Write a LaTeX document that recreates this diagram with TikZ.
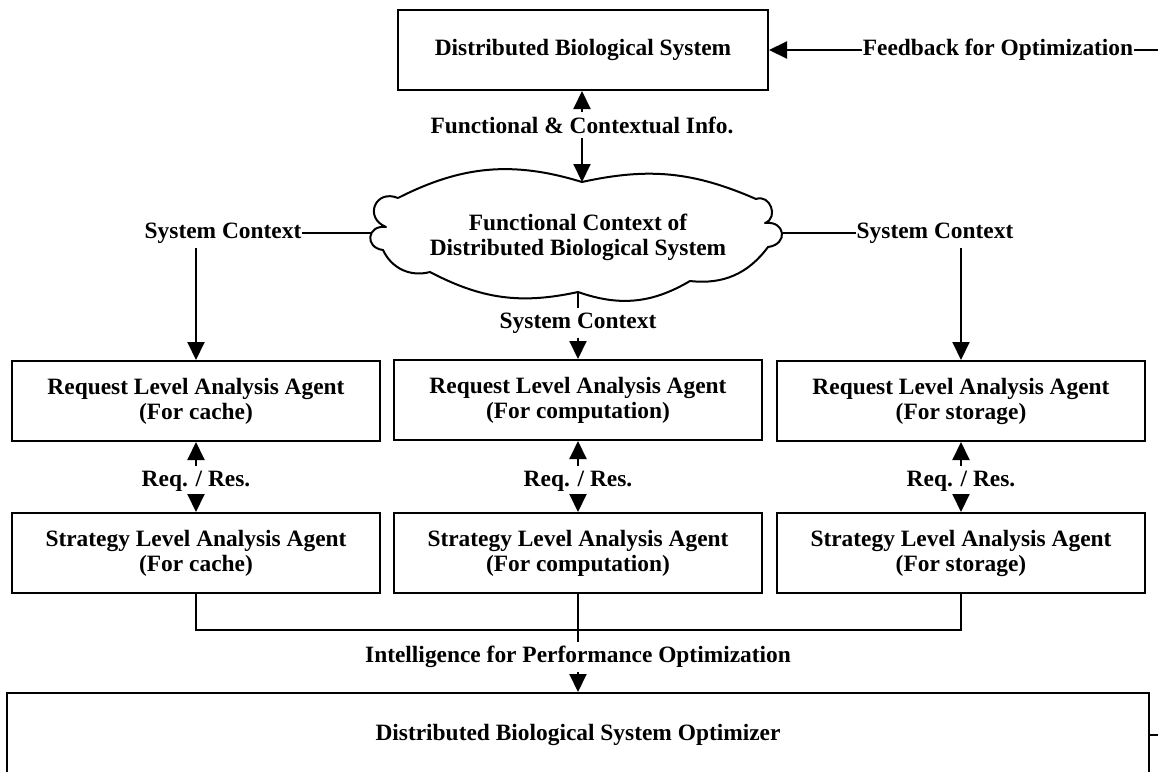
\documentclass[tikz,border=0pt]{standalone}
\usepackage{fontspec}
\setmainfont{Liberation Serif}
\usetikzlibrary{arrows.meta}
\begin{document}
\begin{tikzpicture}[x=0.5pt,y=-0.5pt,
  every node/.style={font=\bfseries\fontsize{11.7}{12.5}\selectfont,align=center},
  box/.style={draw,line width=1pt,minimum width=184pt,minimum height=40pt,inner sep=0pt},
  lbl/.style={inner ysep=2pt,inner xsep=0.3pt},
  conn/.style={line width=1pt},
  arr/.style={conn,-{Triangle[width=8.5pt,length=9pt]}}]
\useasboundingbox (0,0) rectangle (1158,772);
\clip (0,0) rectangle (1158,772);
% top
\node[box,minimum width=185pt] (top) at (583,50) {Distributed Biological System};
\node[lbl] (fci) at (582,125) {Functional \& Contextual Info.};
% cloud
\node[inner sep=0pt] (cloud) at (578,237) {Functional Context of\\Distributed Biological System};
\draw[conn,line join=round] (398,198) to[bend left=22] (582,182) to[bend left=18] (756,199)
  to[bend left=90,looseness=1.5] (765,223) to[bend left=90,looseness=2.2] (768,247)
  to[bend left=30] (690,281) to[bend left=25] (578,292) to[bend left=20] (430,272)
  to[bend left=40] (383,250) to[bend left=90,looseness=2.1] (386,227)
  to[bend left=90,looseness=2] (398,198);
\coordinate (cT) at (582,182);
\coordinate (cB) at (578,292);
\coordinate (cL) at (372,233);
\coordinate (cR) at (783,233);
\node[lbl] (fb) at (998,50) {Feedback for Optimization};
% system context labels
\node[lbl] (sc1) at (223,233) {System Context};
\node[lbl] (sc3) at (935,233) {System Context};
\node[lbl] (sc2) at (578,323) {System Context};
% request boxes
\node[box] (b1) at (196,401) {Request Level Analysis Agent\\(For cache)};
\node[box] (b2) at (578,400) {Request Level Analysis Agent\\(For computation)};
\node[box] (b3) at (961,401) {Request Level Analysis Agent\\(For storage)};
% req/res labels
\node[lbl] (rr1) at (196,481) {Req. / Res.};
\node[lbl] (rr2) at (578,481) {Req. / Res.};
\node[lbl] (rr3) at (961,481) {Req. / Res.};
% strategy boxes
\node[box] (s1) at (196,553) {Strategy Level Analysis Agent\\(For cache)};
\node[box] (s2) at (578,553) {Strategy Level Analysis Agent\\(For computation)};
\node[box] (s3) at (961,553) {Strategy Level Analysis Agent\\(For storage)};
\coordinate (jn) at (578,630);
\node[lbl] (intel) at (578,657) {Intelligence for Performance Optimization};
\node[box,minimum width=571pt,minimum height=42pt] (opt) at (578,735) {Distributed Biological System Optimizer};
% connectors
\draw[arr] (fci.north) -- (top.south -| fci.north);
\draw[arr] (fci.south) -- (cT);
\draw[conn] (sc1.east) -- (cL);
\draw[conn] (cR) -- (sc3.west);
\draw[arr] (sc1.south -| b1.north) -- (b1.north);
\draw[arr] (sc3.south -| b3.north) -- (b3.north);
\draw[conn] (cB) -- (sc2.north);
\draw[arr] (sc2.south) -- (b2.north);
\foreach \i in {1,2,3}{
  \draw[arr] (rr\i.north) -- (b\i.south);
  \draw[arr] (rr\i.south) -- (s\i.north);
}
\draw[conn] (s1.south) |- (jn) -| (s3.south);
\draw[conn] (s2.south) -- (intel.north);
\draw[arr] (intel.south) -- (opt.north);
\draw[arr] (fb.west) -- (top.east |- fb.west);
\draw[conn] (opt.east) -- ++(20,0) |- (fb.east);
\end{tikzpicture}
\end{document}
